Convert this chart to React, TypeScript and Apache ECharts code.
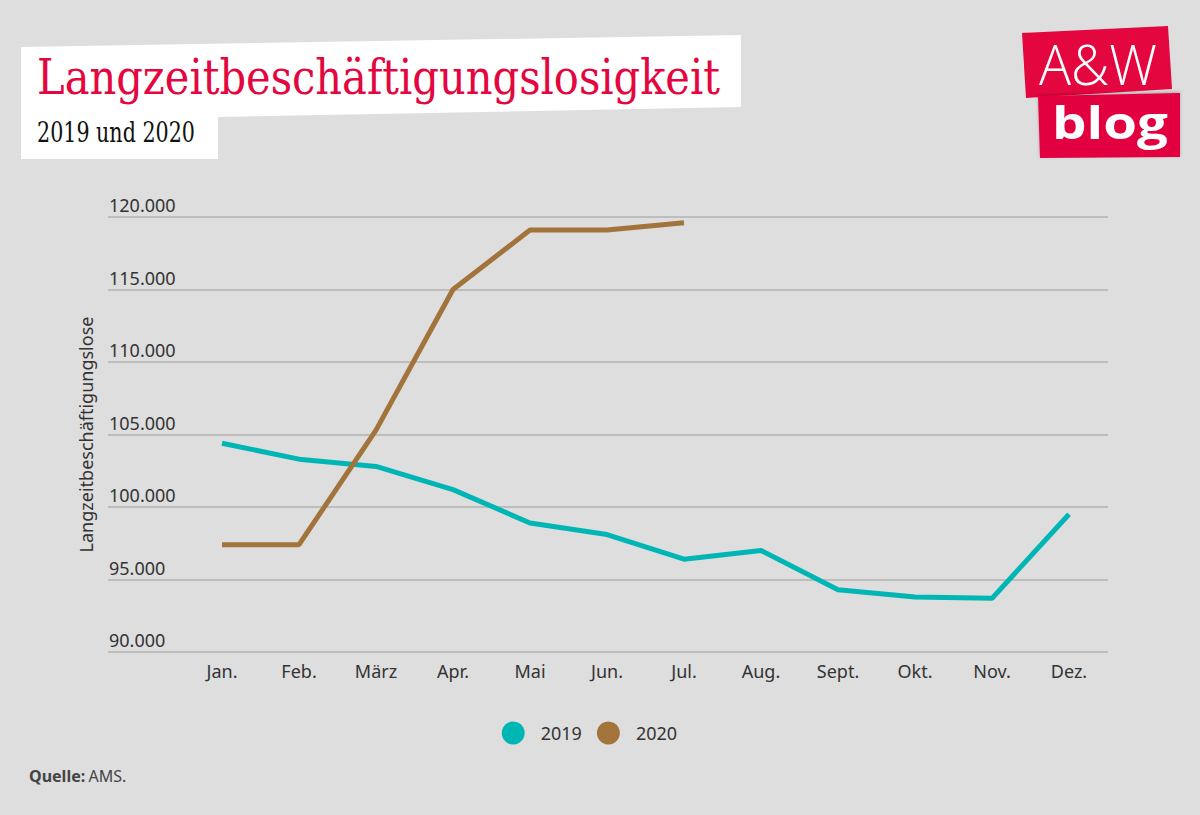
import React, { useEffect, useRef } from "react";
import * as echarts from "echarts";

const months = ["Jan.", "Feb.", "März", "Apr.", "Mai", "Jun.", "Jul.", "Aug.", "Sept.", "Okt.", "Nov.", "Dez."];
const values2019 = [104400, 103300, 102800, 101200, 98900, 98100, 96400, 97000, 94300, 93800, 93700, 99500];
const values2020 = [97400, 97400, 105300, 115000, 119100, 119100, 119600, null, null, null, null, null];
const seriesNames = ["2019", "2020"];
const yMin = 90000;
const yMax = 120000;
const yStep = 5000;

const TEAL = "#00b6b5";
const BROWN = "#a2733b";
const RED = "#e3063f";
const TXT = "#333333";
const SANS = "'Noto Sans', sans-serif";

function fitScale(text: string, font: string, target: number): number {
  const ctx = document.createElement("canvas").getContext("2d");
  if (!ctx) return 1;
  ctx.font = font;
  const w = ctx.measureText(text).width;
  return w > 0 ? target / w : 1;
}

const fmt = (v: number) => {
  const s = String(Math.round(v));
  return s.replace(/\B(?=(\d{3})+(?!\d))/g, ".");
};

export default function App() {
  const ref = useRef<HTMLDivElement>(null);
  useEffect(() => {
    document.body.style.margin = "0";
    if (!ref.current) return;
    const chart = echarts.init(ref.current, null, { renderer: "svg" });

    const titleText = "Langzeitbeschäftigungslosigkeit";
    const titleFont = "48px 'DejaVu Serif'";
    const titleScale = fitScale(titleText, titleFont, 683);
    const subText = "2019 und 2020";
    const subFont = "27px 'DejaVu Serif'";
    const subScale = fitScale(subText, subFont, 158);
    const awFont = "300 56px 'Open Sans'";
    const awScale = fitScale("A&W", awFont, 118);
    const blogFont = "bold 44px 'Open Sans'";
    const blogScale = fitScale("blog", blogFont, 116);

    const option: any = {
      animation: false,
      backgroundColor: "#dedede",
      textStyle: { fontFamily: SANS },
      grid: [
        { left: 108, right: 92, top: 217, bottom: 163 },
        { left: 183.5, right: 92.5, top: 217, bottom: 163 },
      ],
      xAxis: [
        { type: "value", gridIndex: 0, show: false, min: 0, max: 1 },
        {
          type: "category",
          gridIndex: 1,
          data: months,
          boundaryGap: true,
          axisLine: { show: false },
          axisTick: { show: false },
          axisLabel: { color: TXT, fontSize: 18, margin: 10, fontFamily: SANS },
        },
      ],
      yAxis: [
        {
          type: "value",
          gridIndex: 0,
          min: yMin,
          max: yMax,
          interval: yStep,
          name: "Langzeitbeschäftigungslose",
          nameLocation: "middle",
          nameGap: 13,
          nameRotate: 90,
          nameTextStyle: { color: TXT, fontSize: 18, fontFamily: SANS },
          axisLine: { show: false },
          axisTick: { show: false },
          splitLine: { show: true, lineStyle: { color: "#b2b2b2", width: 1.5 } },
          axisLabel: {
            inside: true,
            margin: 1,
            align: "left",
            verticalAlign: "bottom",
            padding: [0, 0, 3, 0],
            color: TXT,
            fontSize: 18,
            fontFamily: SANS,
            formatter: (v: number) => fmt(v),
          },
        },
        { type: "value", gridIndex: 1, min: yMin, max: yMax, show: false, splitLine: { show: false } },
      ],
      legend: {
        data: seriesNames,
        left: 496.7,
        top: 716.5,
        icon: "circle",
        itemWidth: 23,
        itemHeight: 23,
        itemGap: 15,
        textStyle: { color: TXT, fontSize: 18, fontFamily: SANS, padding: [0, 0, 0, 11] },
      },
      series: [
        {
          name: seriesNames[0],
          type: "line",
          xAxisIndex: 1,
          yAxisIndex: 1,
          data: values2019,
          symbol: "none",
          color: TEAL,
          lineStyle: { width: 5, color: TEAL },
        },
        {
          name: seriesNames[1],
          type: "line",
          xAxisIndex: 1,
          yAxisIndex: 1,
          data: values2020,
          symbol: "none",
          color: BROWN,
          lineStyle: { width: 5, color: BROWN },
        },
      ],
      graphic: [
        {
          type: "polygon",
          shape: { points: [[21, 47], [741, 35], [741, 107], [218, 117], [218, 159], [21, 159]] },
          style: { fill: "#ffffff" },
        },
        {
          type: "text",
          x: 37,
          y: 77,
          scaleX: titleScale,
          style: {
            text: titleText,
            font: titleFont,
            fill: RED,
            textAlign: "left",
            textVerticalAlign: "middle",
          },
        },
        {
          type: "text",
          x: 37,
          y: 133,
          scaleX: subScale,
          style: {
            text: subText,
            font: subFont,
            fill: "#111111",
            textAlign: "left",
            textVerticalAlign: "middle",
          },
        },
        {
          type: "polygon",
          shape: { points: [[1022, 33], [1168, 26], [1172, 89], [1026, 98]] },
          style: { fill: RED },
        },
        {
          type: "polygon",
          shape: { points: [[1038, 96], [1180, 93], [1180, 157], [1040, 158]] },
          style: { fill: RED, shadowBlur: 3, shadowColor: "rgba(0,0,0,0.25)", shadowOffsetY: -1 },
        },
        {
          type: "text",
          x: 1039,
          y: 63,
          scaleX: awScale,
          style: {
            text: "A&W",
            font: awFont,
            fill: "#ffffff",
            textAlign: "left",
            textVerticalAlign: "middle",
          },
        },
        {
          type: "text",
          x: 1052,
          y: 122,
          scaleX: blogScale,
          style: {
            text: "blog",
            font: blogFont,
            fill: "#ffffff",
            textAlign: "left",
            textVerticalAlign: "middle",
          },
        },
        {
          type: "text",
          x: 29,
          y: 776,
          style: {
            text: "{b|Quelle:} {n|AMS.}",
            textAlign: "left",
            textVerticalAlign: "middle",
            rich: {
              b: { fontFamily: SANS, fontSize: 16, fontWeight: "bold", fill: "#444444" },
              n: { fontFamily: SANS, fontSize: 16, fill: "#444444" },
            },
          },
        },
      ],
    };
    chart.setOption(option);
    return () => chart.dispose();
  }, []);
  return <div ref={ref} style={{ width: 1200, height: 815 }} />;
}
